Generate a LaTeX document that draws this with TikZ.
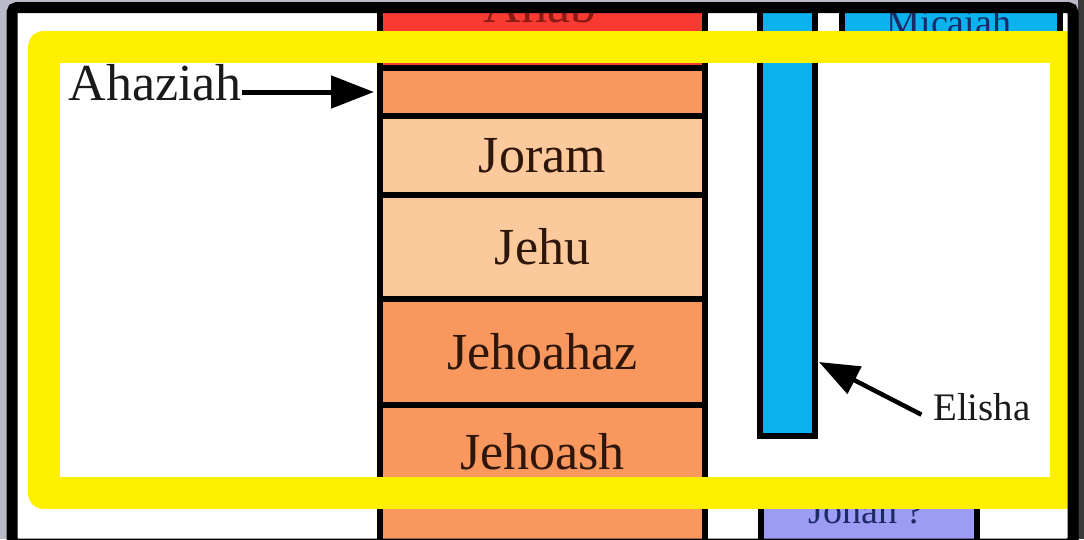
\documentclass[tikz,border=0pt]{standalone}
\usepackage{fontspec}
\setmainfont{Liberation Serif}
\usetikzlibrary{arrows.meta}
\definecolor{ahabred}{HTML}{F83A32}
\definecolor{ahabtxt}{HTML}{8A1A14}
\definecolor{salmon}{HTML}{F8985F}
\definecolor{peach}{HTML}{FCC99C}
\definecolor{skyblue}{HTML}{0AB2EE}
\definecolor{lavender}{HTML}{9C9CF5}
\definecolor{hiyellow}{HTML}{FFF000}
\definecolor{celltxt}{HTML}{2E160A}
\definecolor{navytxt}{HTML}{1E2A66}
\definecolor{labeltxt}{HTML}{1A1A1A}
\definecolor{bgleft}{HTML}{B9BAC8}
\definecolor{bgright}{HTML}{3A3A3A}
\begin{document}
\begin{tikzpicture}[x=1pt,y=-1pt,
  cell/.style={draw=black, line width=6pt, inner sep=0pt, outer sep=0pt,
    font=\fontsize{52}{60}\selectfont, text=celltxt},
  celltext/.style={inner sep=0pt, font=\fontsize{52}{60}\selectfont, text=celltxt},
  smalltext/.style={inner sep=0pt, font=\fontsize{38}{44}\selectfont, text=navytxt},
  labeltext/.style={inner sep=0pt, text=labeltxt},
  pointer/.style={draw=black, line width=5pt,
    -{Triangle[length=43pt,width=32pt]}},
  highlight/.style={draw=hiyellow, line width=32pt, line join=round},
  frame/.style={draw=black, line width=11pt, rounded corners=5pt}
]
\useasboundingbox (0,0) rectangle (1084,539);
\fill[bgleft] (0,0) rectangle (1084,539);
\fill[bgright] (1078,0) rectangle (1084,539);
\fill[white] (12,7.5) rectangle (1073,539);
\begin{scope}
\clip (12,7.5) rectangle (1073,539);
% column of kings
\node[cell, fill=ahabred, minimum width=325pt, minimum height=108pt] (ahab) at (542.5,14) {};
\node[celltext, anchor=base, text=ahabtxt] (ahabtext) at (540,22) {Ahab};
\node[cell, fill=salmon, minimum width=325pt, minimum height=48pt] (ahaziah) at (542.5,92) {};
\node[cell, fill=peach, minimum width=325pt, minimum height=79pt] (joram) at (542.5,155.5) {Joram};
\node[cell, fill=peach, minimum width=325pt, minimum height=103.5pt] (jehu) at (542.5,246.75) {Jehu};
\node[cell, fill=salmon, minimum width=325pt, minimum height=106.5pt] (jehoahaz) at (542.5,351.75) {Jehoahaz};
\node[cell, fill=salmon, minimum width=325pt, minimum height=195pt] (jehoash) at (542.5,502.5) {};
\node[celltext] (jehoashtext) at (542.5,452) {Jehoash};
% prophets
\node[cell, fill=skyblue, minimum width=55pt, minimum height=486pt] (elisha) at (787.5,193) {};
\node[cell, fill=skyblue, minimum width=217.5pt, minimum height=108pt] (micaiah) at (950.75,4) {};
\node[smalltext, anchor=base] (micaiahtext) at (949,35) {Micaiah};
\node[cell, fill=lavender, minimum width=216pt, minimum height=100pt] (jonah) at (869,550) {};
\node[smalltext, anchor=base] (jonahtext) at (866,523) {Jonah ?};
% labels and pointers
\node[labeltext, anchor=base east, font=\fontsize{52}{60}\selectfont] (ahlabel) at (242,100) {Ahaziah};
\draw[pointer] (ahlabel.east |- ahaziah.west) -- (ahaziah.west) [shorten >=6pt];
\node[labeltext, anchor=base west, font=\fontsize{39}{45}\selectfont] (elishalabel) at (933,420) {Elisha};
\coordinate (elishatip) at (819,362);
\draw[pointer, line width=4.5pt, -{Triangle[length=40pt,width=30pt]}, shorten <=13pt] (elishalabel.south west) -- (elishatip);
% yellow highlight
\draw[highlight] (43.5,47) rectangle (1066,493);
\end{scope}
\draw[frame] (12,7.5) rectangle (1073,544);
\end{tikzpicture}
\end{document}
